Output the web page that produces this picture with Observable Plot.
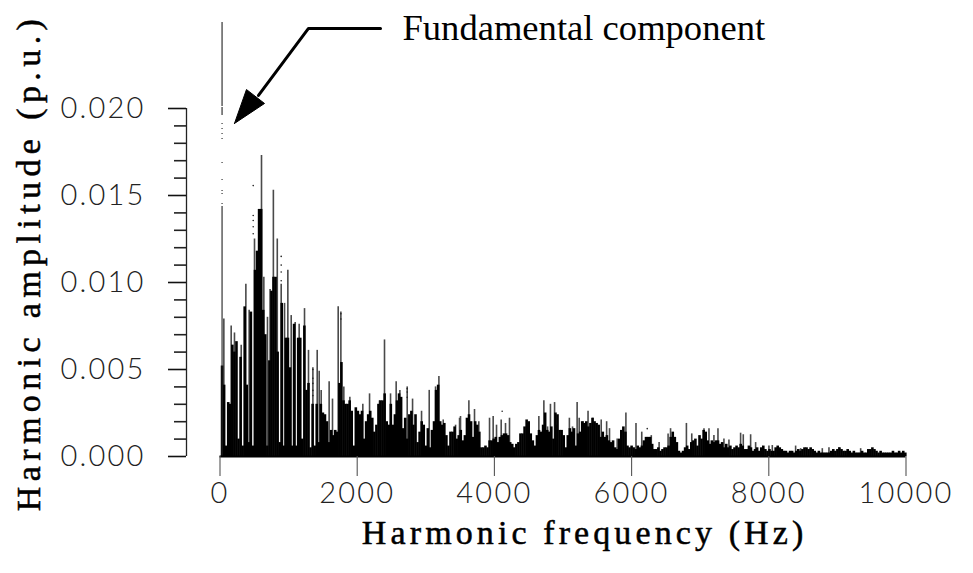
<!DOCTYPE html>
<html>
<head>
<meta charset="utf-8">
<script src="https://cdn.jsdelivr.net/npm/d3@7"></script>
<script src="https://cdn.jsdelivr.net/npm/@observablehq/plot@0.6"></script>
<style>
html,body{margin:0;padding:0;background:#fff}
svg{display:block}
g[aria-label="y-axis tick label"] text,g[aria-label="x-axis tick label"] text{letter-spacing:2.2px;font-weight:300}
g.xlab text,text.xlab{letter-spacing:4.1px}
g.ylab text,text.ylab{letter-spacing:5.4px}
</style>
</head>
<body>
<div id="chart"></div>
<script>
// spectrum body: amplitude (×1e-4 p.u.) read every 30 Hz, from 30 Hz upwards
const bodyLow = [52,41,6,31,30,64,60,66,10,57,6,86,41,8,83,6,107,118,142,142,84,70,6,55,95,103,103,60,8,88,6,68,68,51,6,76,6,68,68,10,75,38,42,5,30,6,30,8,30,25,24,20,8,15,12,15,14,42,54,32,30,30,32,26,6,28,26,24,26,10,20,24,26,22,14,18,30,32,32,36,20,18,30,18,24,32,36,34,16,22,10,24,26,18,24,8,14,20,18,6,16,5,15,20,38,41,20,18,19,12,6,14,14,17,10,12];
const bodyMid = [15,9,12,22,24,20,11,20,18,14,5,5,6,5,9,9,10,11,8,11,12,13,13,12,8,7,5,7,8,13,13,17,21,20,13,9,6,12,15,14,18,25,15,14,17,10,25,24,15,15,12,5,12,16,14,16,6,13,14,20,19,20,17,19,22,20,19,18,11,14,11,12,9,8,9,5,4,10,15,17,14,6,5,6,5,4,6,5,6,9,11,11,11,7,4,4,5,3,4,5,5,6,11,14,11,8,3,2,3,5,6,4,8,9,10,6,12,10,15,14,9,7,9,8,9,9,7,8,5,7,5,6,4,5,6,5,7,6,4,4,6,5,3,4,5,3];
const bodyHigh = [5,6,4,3,4,3,3,5,6,5,4,3,3,2,3,3,2,3,4,3,4,5,5,4,5,4,3,2,3,2,2,2,2,2,3,4,3,4,5,4,3,3,4,3,2,3,2,2,2,3,2,2,4,4,5,4,3,2,3,2,2,2,2,2,3,2,2,3,2,3,2];
const bodyAmp = [...bodyLow, ...bodyMid, ...bodyHigh];

// individual tall lines: frequency (Hz) and amplitude (×1e-4 p.u.)
const spikeHz = [56,163,211,309,377,425,503,605,639,692,730,778,835,892,941,989,1038,1096,1154,1232,1290,1354,1417,1446,1475,1591,1640,1723,1762,1805,1893,2082,2180,2325,2398,2486,2568,2622,2729,2807,2938,3050,3142,3191,3254,3434,3492,
 3506,3628,3710,3773,3929,3982,4031,4099,4162,4220,4478,4648,4721,4775,4817,4877,4905,5093,5206,5139,5236,5294,5365,5436,5557,5636,5678,5790,5917,6064,6148,6287,6568,6799,6877,6401,6532,7055,7128,7200,7259,7346,7419,7589,7628,7735,7808,8002,8051,8391,8464,8780,8877,9023,9339];
const spikeAmp = [79,75,71,64,99,84,125,173,103,80,96,153,125,99,88,107,81,77,76,85,61,51,61,49,38,43,33,86,83,40,34,30,36,32,67,36,43,38,40,33,26,38,40,46,21,18,22,
 23,32,27,20,22,23,18,21,19,22,19,23,32,17,30,31,18,22,31,17,22,20,26,22,21,20,16,10,25,19,14,12,16,19,13,8,13,16,16,12,16,10,9.5,13.4,12.5,12.5,8,6,6.3,6,4.5,4.5,5,5,4.5];

// isolated specks above the spectrum: frequency (Hz) and amplitude (×1e-4 p.u.)
const speckHz = [892,892,892,892,1762,1762,2729,2729,2729,1354,1354,1354,1354,1354,484,484,484,484,484,4113,6228];
const speckAmp = [115,110,106,101,82,79,39,37,34,50,45,42,38,35,155.7,138.5,135.6,132,128,26,16];

// the 50 Hz fundamental line is broken into pieces in the print (p.u.)
const fundFrom = [0.01437,0.01448,0.01506,0.01523,0.01586,0.01684,0.01822,0.0185,0.01879,0.01908,0.0196,0.02011];
const fundTo   = [0,0.01454,0.01511,0.01529,0.01592,0.0169,0.01828,0.01856,0.01885,0.01914,0.02006,0.02494];

const xTicks = [0,2000,4000,6000,8000,10000];
const yMajor = [0,0.005,0.010,0.015,0.020];
const yMinor = [0.001,0.002,0.003,0.004,0.006,0.007,0.008,0.009,0.011,0.012,0.013,0.014,0.016,0.017,0.018,0.019];

const leaderHz = [2340,1290,561];
const leaderAmp = [0.0246,0.0246,0.02075];
const headHz = [211,386,649,211];
const headAmp = [0.01914,0.02109,0.02029,0.01914];

const bars = bodyAmp.map((a,i)=>({f:30*(i+1),a:a*1e-4}));
const spikes = spikeHz.map((f,i)=>({f,a:spikeAmp[i]*1e-4}));
const specks = speckHz.map((f,i)=>({f,a:speckAmp[i]*1e-4}));
const fund = fundFrom.map((y1,i)=>({y1,y2:fundTo[i]}));
const tickFont = "Lato, Roboto, sans-serif";
const labelFont = "'Liberation Serif', serif";

const chart = Plot.plot({
  width:973, height:573,
  marginLeft:219.5, marginRight:67.5, marginTop:21, marginBottom:117,
  x:{domain:[0,10000]},
  y:{domain:[0,0.025]},
  marks:[
    Plot.ruleX(spikes,{x:"f",y1:0,y2:"a",stroke:"#4a4a4a",strokeWidth:1.6}),
    Plot.ruleX(bars,{x:"f",y1:0,y2:"a",stroke:"#000",strokeWidth:2.6}),
    Plot.dot(specks,{x:"f",y:"a",r:0.8,fill:"#222"}),
    Plot.ruleX(fund,{x:30,y1:"y1",y2:"y2",stroke:"#222",strokeWidth:1.1}),
    Plot.ruleY([0],{stroke:"#000",strokeWidth:2}),
    Plot.axisX({ticks:xTicks,tickSize:20,tickPadding:6,tickFormat:"d",fontSize:29,fontFamily:tickFont,label:null,stroke:"#555",strokeWidth:1.1,color:"#222"}),
    Plot.ruleX([0],{dx:-33.5,y1:0,y2:0.02,stroke:"#222",strokeWidth:1.3}),
    Plot.axisY({ticks:yMinor,dx:-33.5,tickSize:12,tickFormat:()=>"",label:null,stroke:"#222",strokeWidth:1.6}),
    Plot.axisY({ticks:yMajor,dx:-33.5,tickSize:18,tickPadding:23,tickFormat:".3f",fontSize:29,fontFamily:tickFont,label:null,stroke:"#111",strokeWidth:1.6,color:"#222"}),
    Plot.line(leaderHz.map((x,i)=>[x,leaderAmp[i]]),{x:d=>d[0],y:d=>d[1],stroke:"#000",strokeWidth:3}),
    Plot.line(headHz.map((x,i)=>[x,headAmp[i]]),{x:d=>d[0],y:d=>d[1],fill:"#000",stroke:"#000",strokeWidth:1}),
    Plot.text(["Fundamental component"],{x:[2660],y:[0.0246],textAnchor:"start",fontFamily:labelFont,fontSize:36.6,fill:"#000"}),
    Plot.text(["Harmonic frequency (Hz)"],{x:[5315],y:[-0.0044],textAnchor:"middle",fontFamily:labelFont,fontSize:34,fill:"#000",stroke:"#000",strokeWidth:0.5,className:"xlab"}),
    Plot.text(["Harmonic amplitude (p.u.)"],{x:[-2780],y:[0.01115],textAnchor:"middle",rotate:-90,fontFamily:labelFont,fontSize:34,fill:"#000",stroke:"#000",strokeWidth:0.5,className:"ylab"})
  ]
});
document.getElementById("chart").appendChild(chart);
</script>
</body>
</html>
